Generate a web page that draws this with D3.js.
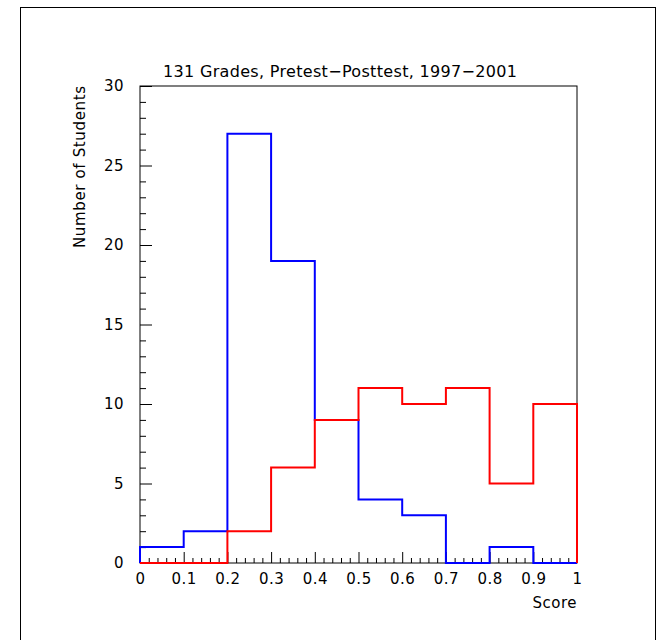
<!DOCTYPE html>
<html>
<head>
<meta charset="utf-8">
<script src="https://cdn.jsdelivr.net/npm/d3@7"></script>
<style>
  body { margin: 0; background: #fff; }
  text { font-family: "DejaVu Sans", sans-serif; fill: #000; }
</style>
</head>
<body>
<div class="canvas"></div>
<script>
// bin edges and counts
const binEdges = [0, 0.1, 0.2, 0.3, 0.4, 0.5, 0.6, 0.7, 0.8, 0.9, 1];
const pretest = [1, 2, 27, 19, 9, 4, 3, 0, 1, 0];
const posttest = [0, 0, 2, 6, 9, 11, 10, 11, 5, 10];
const xTicks = [0, 0.1, 0.2, 0.3, 0.4, 0.5, 0.6, 0.7, 0.8, 0.9, 1];
const yTicks = [0, 5, 10, 15, 20, 25, 30];

const svg = d3.select('.canvas')
  .append('svg')
  .attr('width', 661)
  .attr('height', 640);

// outer frame
svg.append('rect')
  .attr('x', 20.5).attr('y', 7.5)
  .attr('width', 635).attr('height', 700)
  .attr('fill', 'none')
  .attr('stroke', '#000')
  .attr('stroke-width', 1);

const margin = { top: 86, left: 140 };
const graphWidth = 577 - 140;
const graphHeight = 563 - 86;

const graph = svg.append('g')
  .attr('transform', `translate(${margin.left}, ${margin.top})`);

const x = d3.scaleLinear().domain([0, 1]).range([0, graphWidth]);
const y = d3.scaleLinear().domain([0, 30]).range([graphHeight, 0]);

// plot box
graph.append('rect')
  .attr('x', 0).attr('y', 0)
  .attr('width', graphWidth).attr('height', graphHeight)
  .attr('fill', 'none')
  .attr('stroke', '#000')
  .attr('stroke-width', 1);

// x axis: ticks inside, pointing up
const xAxis = d3.axisBottom(x)
  .tickValues(xTicks)
  .tickSizeInner(-11)
  .tickSizeOuter(0)
  .tickFormat(d3.format('~g'));

const xAxisGroup = graph.append('g')
  .attr('transform', `translate(0, ${graphHeight})`)
  .call(xAxis);

xAxisGroup.select('.domain').remove();
xAxisGroup.selectAll('text')
  .attr('y', 10)
  .attr('dy', '0.71em')
  .attr('font-size', 15)
  .attr('letter-spacing', 0.5)
  .attr('font-family', '"DejaVu Sans", sans-serif');

// x minor ticks
graph.append('g')
  .attr('transform', `translate(0, ${graphHeight})`)
  .call(d3.axisBottom(x)
    .tickValues(d3.range(0, 50).map(i => i / 50).filter(v => Math.round(v * 50) % 5 !== 0))
    .tickSizeInner(-5).tickSizeOuter(0).tickFormat(''))
  .select('.domain').remove();

// y axis: ticks inside, pointing right
const yAxis = d3.axisLeft(y)
  .tickValues(yTicks)
  .tickSizeInner(-12)
  .tickSizeOuter(0);

const yAxisGroup = graph.append('g').call(yAxis);
yAxisGroup.select('.domain').remove();
yAxisGroup.selectAll('text')
  .attr('x', -16)
  .attr('font-size', 15)
  .attr('letter-spacing', 0.5)
  .attr('font-family', '"DejaVu Sans", sans-serif');

// y minor ticks
graph.append('g')
  .call(d3.axisLeft(y)
    .tickValues(d3.range(0, 31).filter(v => v % 5 !== 0))
    .tickSizeInner(-6).tickSizeOuter(0).tickFormat(''))
  .select('.domain').remove();

graph.selectAll('.tick line').attr('stroke', '#000');

// histogram outlines
const histPoints = (counts) => {
  const pts = [[binEdges[0], 0]];
  counts.forEach((c, i) => {
    pts.push([binEdges[i], c]);
    pts.push([binEdges[i + 1], c]);
  });
  pts.push([binEdges[binEdges.length - 1], 0]);
  return pts;
};

const line = d3.line()
  .x(d => x(d[0]))
  .y(d => y(d[1]));

graph.append('path')
  .attr('d', line(histPoints(pretest)))
  .attr('fill', 'none')
  .attr('stroke', '#0000ff')
  .attr('stroke-width', 2);

graph.append('path')
  .attr('d', line(histPoints(posttest)))
  .attr('fill', 'none')
  .attr('stroke', '#ff0000')
  .attr('stroke-width', 2);

// title and axis labels
svg.append('text')
  .attr('x', 340).attr('y', 77)
  .attr('text-anchor', 'middle')
  .attr('font-size', 16)
  .attr('textLength', 354)
  .text('131 Grades, Pretest\u2212Posttest, 1997\u22122001');

svg.append('text')
  .attr('x', 577).attr('y', 608)
  .attr('text-anchor', 'end')
  .attr('font-size', 15)
  .attr('letter-spacing', 0.5)
  .text('Score');

svg.append('text')
  .attr('transform', 'translate(85, 86) rotate(-90)')
  .attr('text-anchor', 'end')
  .attr('font-size', 15)
  .attr('textLength', 162)
  .text('Number of Students');
</script>
</body>
</html>
